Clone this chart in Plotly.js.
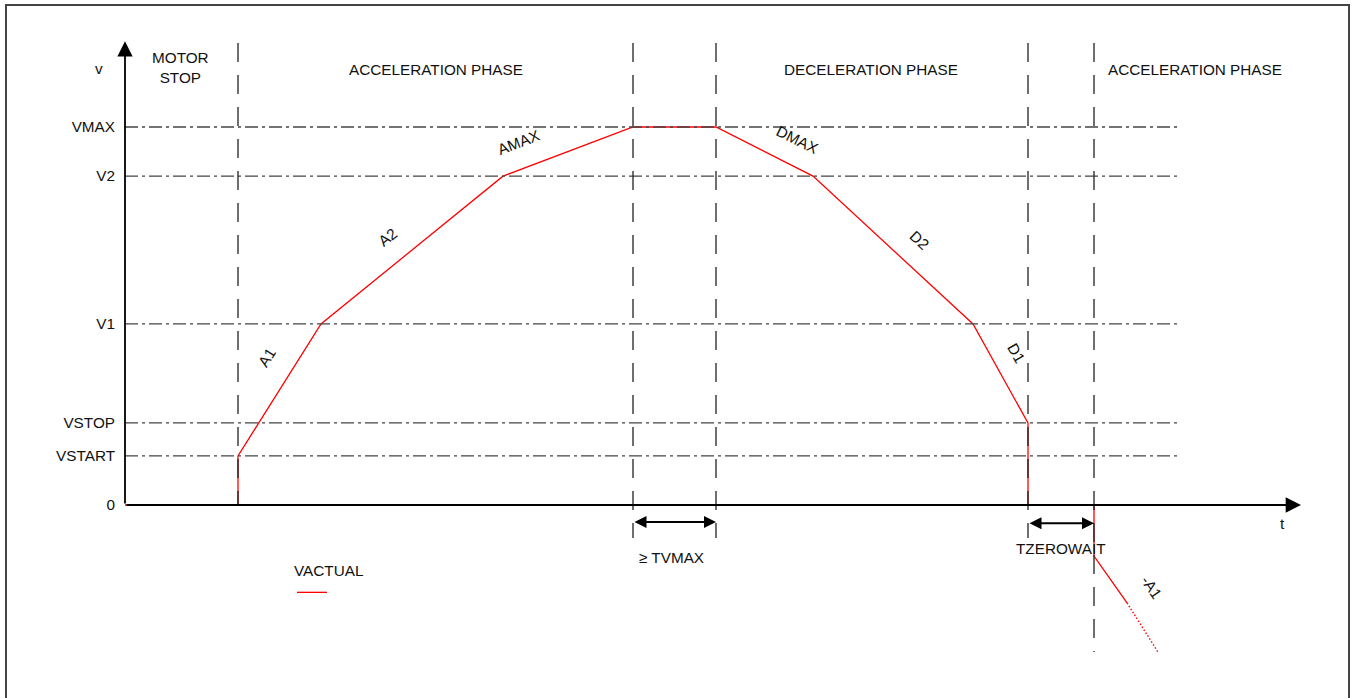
<!DOCTYPE html>
<html>
<head>
<meta charset="utf-8">
<script src="https://cdn.plot.ly/plotly-3.0.1.min.js"></script>
<style>
  html, body { margin: 0; padding: 0; background: #fff; }
  #chart { width: 1352px; height: 698px; }
</style>
</head>
<body>
<div id="chart"></div>
<script>
// --------- DATOS (t en unidades arbitrarias, v en % de VMAX)

const levelNames = ['0', 'VSTART', 'VSTOP', 'V1', 'V2', 'VMAX'];
const levelValues = [0, 13, 21.7, 47.9, 87, 100];
const levelEnd = 105.2;

// lineas de fase (verticales)
const phaseTimes = [11.3, 50.8, 59.1, 90.3, 96.9];
const phaseBottoms = [0, -8.7, -8.7, -8.7, -38.9];
const phaseTop = 122.2;

// perfil de velocidad VACTUAL
const profileT = [0, 11.3, 11.3, 19.6, 37.8, 50.8, 59.1, 68.8, 84.8, 90.3, 90.3, 96.9, 96.9, 100.2];
const profileV = [0, 0, 13, 47.9, 87, 100, 100, 87, 47.9, 21.7, 0, 0, -13.5, -25.9];
const tailT = [100.2, 103.3];
const tailV = [-25.9, -38.9];

// textos de fases
const phaseLabels = ['MOTOR<br>STOP', 'ACCELERATION PHASE', 'DECELERATION PHASE', 'ACCELERATION PHASE'];
const phaseLabelT = [5.55, 31.1, 74.6, 107];
const phaseLabelV = [115.8, 115.2, 115.3, 115.2];

// textos de las rampas
const rampLabels = ['A1', 'A2', 'AMAX', 'DMAX', 'D2', 'D1', '-A1'];
const rampT = [14.2, 26.2, 39.3, 67.2, 79.5, 89.2, 102.7];
const rampV = [38.9, 70.9, 95.8, 96.6, 70.1, 40.2, -21.7];
const rampAngle = [-58, -39, -21, 26, 43, 60, 55];

const axisTopV = 122.7;
const axisEndT = 117.6;

const FONT = 'Liberation Sans, Arial, sans-serif';
const FSIZE = 15.3;

// ----- TRAZAS
const traces = [];

traces.push({
  x: profileT, y: profileV,
  mode: 'lines', name: '',
  line: { color: '#ff0000', width: 1.3 },
  showlegend: true,
  hoverinfo: 'skip'
});
traces.push({
  x: tailT, y: tailV,
  mode: 'lines',
  line: { color: '#ff0000', width: 1.4, dash: '1.5px,2px' },
  showlegend: false,
  hoverinfo: 'skip'
});

//lineas horizontales punto-raya
for (let i = 1; i < levelValues.length; i++) {
  traces.push({
    x: [0, levelEnd], y: [levelValues[i], levelValues[i]],
    mode: 'lines',
    line: { color: '#444', width: 1.3, dash: '13px,4px,3px,4px' },
    showlegend: false,
    hoverinfo: 'skip'
  });
}

//lineas verticales segmentadas
for (let i = 0; i < phaseTimes.length; i++) {
  traces.push({
    x: [phaseTimes[i], phaseTimes[i]], y: [phaseTop, phaseBottoms[i]],
    mode: 'lines',
    line: { color: '#222', width: 1.3, dash: '19px,13px' },
    showlegend: false,
    hoverinfo: 'skip'
  });
}

// ----- ANOTACIONES
const annotations = [];

//ejes con flecha
annotations.push({
  x: 0, y: axisTopV, ax: 0, ay: 0, xref: 'x', yref: 'y', axref: 'x', ayref: 'y',
  text: '', showarrow: true, arrowhead: 2, arrowwidth: 1.8, arrowsize: 1.7, arrowcolor: '#000', standoff: 0
});
annotations.push({
  x: axisEndT, y: 0, ax: 0, ay: 0, xref: 'x', yref: 'y', axref: 'x', ayref: 'y',
  text: '', showarrow: true, arrowhead: 2, arrowwidth: 1.8, arrowsize: 1.7, arrowcolor: '#000', standoff: 0
});

//flechas dobles TVMAX y TZEROWAIT
annotations.push({
  x: phaseTimes[2], y: -4.5, ax: phaseTimes[1], ay: -4.5, xref: 'x', yref: 'y', axref: 'x', ayref: 'y',
  text: '', showarrow: true, arrowhead: 2, arrowside: 'end+start', arrowwidth: 2, arrowsize: 1.2,
  arrowcolor: '#000', standoff: 0, startstandoff: 0
});
annotations.push({
  x: phaseTimes[4], y: -4.8, ax: phaseTimes[3], ay: -4.8, xref: 'x', yref: 'y', axref: 'x', ayref: 'y',
  text: '', showarrow: true, arrowhead: 2, arrowside: 'end+start', arrowwidth: 2, arrowsize: 1.2,
  arrowcolor: '#000', standoff: 0, startstandoff: 0
});

const txt = (text, x, y, angle) => ({
  x: x, y: y, xref: 'x', yref: 'y', text: text, showarrow: false,
  textangle: angle || 0, font: { family: FONT, size: FSIZE, color: '#111' },
  xanchor: 'center', yanchor: 'middle'
});

phaseLabels.forEach((l, k) => annotations.push(txt(l, phaseLabelT[k], phaseLabelV[k])));
rampLabels.forEach((l, k) => annotations.push(txt(l, rampT[k], rampV[k], rampAngle[k])));
annotations.push(txt('v', -2.6, 115.6));
annotations.push(txt('t', 115.7, -5.0));
annotations.push(txt('\u2265 TVMAX', 54.6, -13.8));
annotations.push(txt('TZEROWAIT', 93.6, -11.4));

let layout = {
  width: 1352,
  height: 698,
  margin: { l: 0, r: 0, t: 0, b: 0 },
  paper_bgcolor: '#fff',
  plot_bgcolor: '#fff',
  font: { family: FONT, size: FSIZE, color: '#111' },
  xaxis: { range: [-12.5, 122.7], visible: false, fixedrange: true },
  yaxis: {
    range: [-51.06, 133.6],
    tickvals: levelValues,
    ticktext: levelNames,
    showgrid: false, zeroline: false, showline: false, ticks: '',
    anchor: 'free', position: 125 / 1352,
    ticklabelstandoff: 10,
    tickfont: { family: FONT, size: FSIZE, color: '#111' },
    fixedrange: true
  },
  showlegend: true,
  legend: {
    x: 292 / 1352, y: 1 - 556 / 698, xanchor: 'left', yanchor: 'top',
    bgcolor: 'rgba(0,0,0,0)',
    title: { text: 'VACTUAL', side: 'top', font: { family: FONT, size: FSIZE, color: '#111' } }
  },
  annotations: annotations,
  shapes: [{
    type: 'rect', xref: 'paper', yref: 'paper',
    x0: 6 / 1352, x1: 1349 / 1352, y0: 1 - 5 / 698, y1: -0.1,
    line: { color: '#444', width: 2 }
  }]
};

Plotly.newPlot('chart', traces, layout, { displayModeBar: false, staticPlot: true });
</script>
</body>
</html>
